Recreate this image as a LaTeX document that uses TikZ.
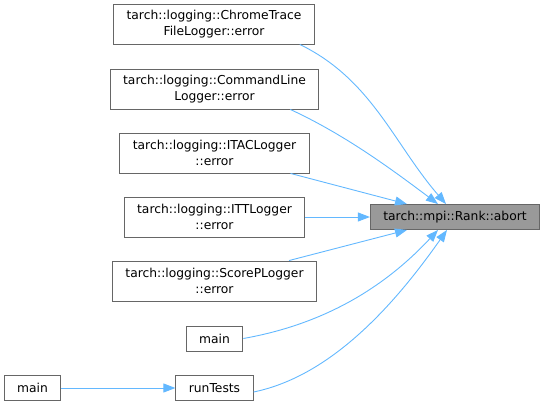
\documentclass[tikz,border=0pt]{standalone}
\usepackage{fontspec}
\setmainfont{DejaVu Sans}
\usetikzlibrary{arrows.meta}
\definecolor{edgeblue}{HTML}{63B8FF}
\definecolor{boxgray}{HTML}{666666}
\definecolor{hitgray}{HTML}{999999}

\begin{document}
\begin{tikzpicture}[x=1pt, y=-1pt,
  fn/.style={rectangle, draw=boxgray, fill=white, line width=0.9pt, align=center,
    font=\fontsize{12.3}{15.6}\selectfont, inner xsep=13pt, inner ysep=0pt, minimum height=25pt},
  fn2/.style={fn, minimum height=40pt},
  hit/.style={fn, fill=hitgray},
  call/.style={line width=0.9pt, edgeblue, -{Triangle[length=12pt, width=9pt]}}
]
  \useasboundingbox (0,0) rectangle (545,406);

  %% ── Callers of abort ──────────────────────────────────────────────────────
  \node[fn2] (chrome) at (214,24)    {tarch::logging::ChromeTrace\\FileLogger::error};
  \node[fn2] (cmdline) at (214.5,89) {tarch::logging::CommandLine\\Logger::error};
  \node[fn2] (itac) at (214.5,153)   {tarch::logging::ITACLogger\\::error};
  \node[fn2] (itt) at (214.5,217)    {tarch::logging::ITTLogger\\::error};
  \node[fn2] (scorep) at (214.5,281) {tarch::logging::ScorePLogger\\::error};
  \node[fn] (mainA) at (214.5,338.5) {main};
  \node[fn] (runtests) at (214.5,388) {runTests};
  \node[fn] (mainB) at (32.5,388)    {main};

  %% ── The function itself ───────────────────────────────────────────────────
  \node[hit] (abort) at (455,217) {tarch::mpi::Rank::abort};

  %% ── Calls ─────────────────────────────────────────────────────────────────
  \draw[call] ([xshift=-15pt]chrome.south east)
    .. controls +(72,35) and +(-52,-60) .. ([xshift=-9pt]abort.north);
  \draw[call] ([xshift=-29pt]cmdline.south east)
    .. controls +(54,25) and +(-48,-36) .. ([xshift=-17pt]abort.north);
  \draw[call] ([xshift=-19pt]itac.south east) -- ([xshift=-48pt]abort.north);
  \draw[call] (itt.east) -- (abort.west);
  \draw[call] ([xshift=-28pt]scorep.north east) -- ([xshift=-48pt]abort.south);
  \draw[call] (mainA.east)
    .. controls +(79,-14) and +(-55,59) .. ([xshift=-17pt]abort.south);
  \draw[call] ([yshift=-4pt]runtests.east)
    .. controls +(78,-16) and +(-52,74) .. ([xshift=-8pt]abort.south);
  % main -> runTests
  \draw[call] (mainB) -- (runtests);
\end{tikzpicture}
\end{document}
